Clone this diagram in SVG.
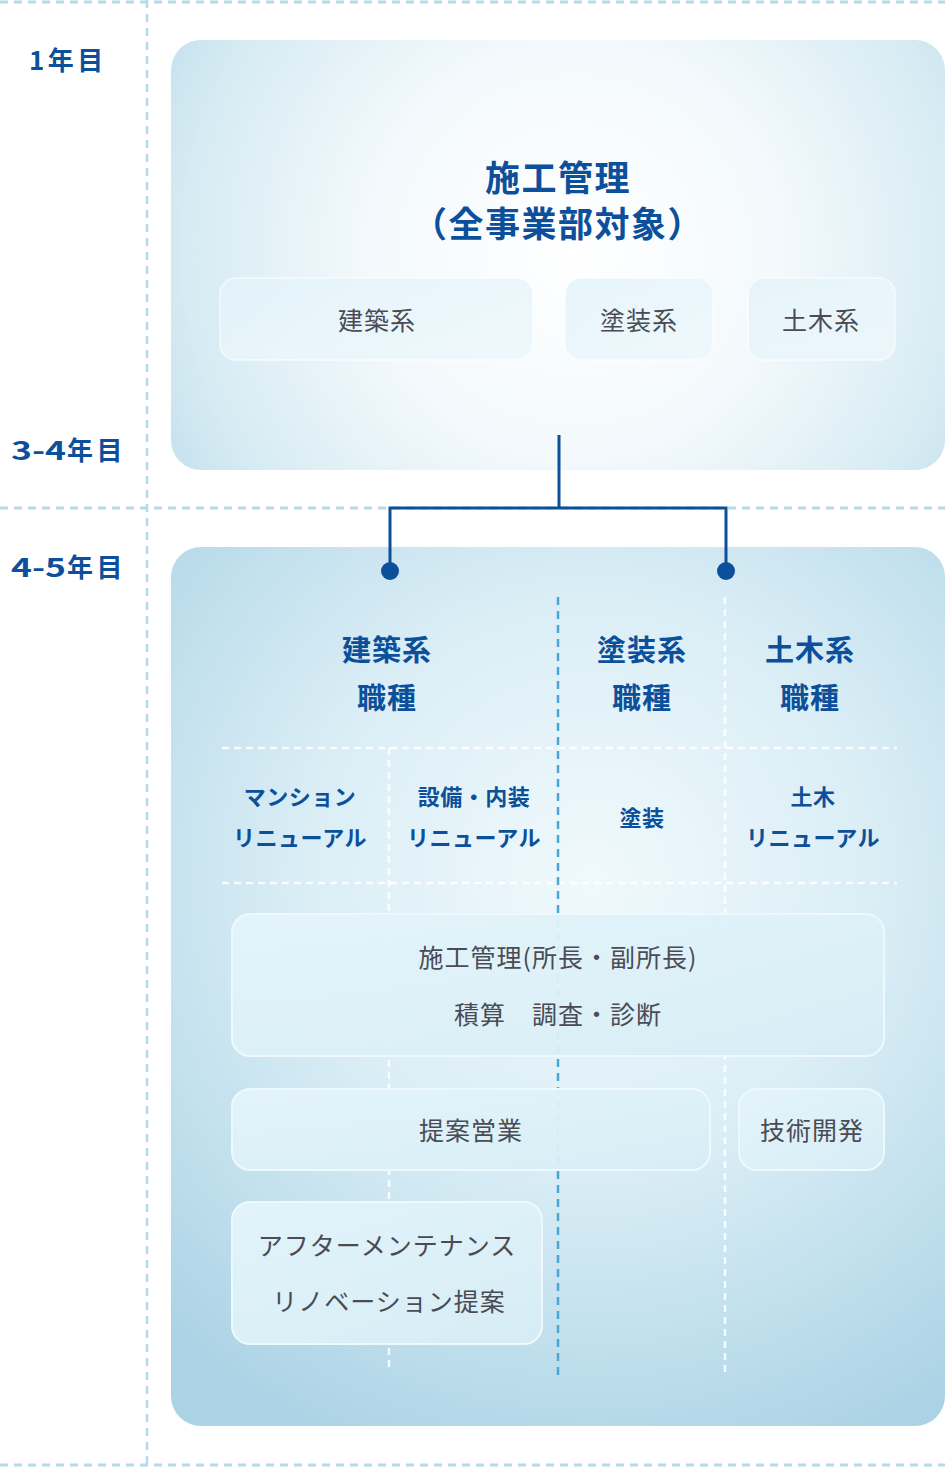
<svg xmlns="http://www.w3.org/2000/svg" width="945" height="1467" viewBox="0 0 945 1467">
<defs>
<radialGradient id="gTop" gradientUnits="userSpaceOnUse" cx="575" cy="250" r="520">
<stop offset="0" stop-color="#ffffff"/>
<stop offset="0.4" stop-color="#f3f9fc"/>
<stop offset="0.75" stop-color="#d6ebf3"/>
<stop offset="1" stop-color="#b6d9e8"/>
</radialGradient>
<radialGradient id="gBot" gradientUnits="userSpaceOnUse" cx="590" cy="880" r="620">
<stop offset="0" stop-color="#f0f9fc"/>
<stop offset="0.45" stop-color="#dbeef6"/>
<stop offset="1" stop-color="#abd3e5"/>
</radialGradient>
<linearGradient id="gBox" x1="0" y1="0" x2="1" y2="1">
<stop offset="0" stop-color="#e4f5fb"/>
<stop offset="1" stop-color="#d7edf5"/>
</linearGradient>
<linearGradient id="gSub" x1="0" y1="0" x2="1" y2="1">
<stop offset="0" stop-color="#e3f3fa"/>
<stop offset="1" stop-color="#eef8fc"/>
</linearGradient>
<style>
.yr{font-family:"Noto Sans CJK JP","Noto Sans",sans-serif;font-weight:700;font-size:26px;fill:#0c4f9b;letter-spacing:3.5px}
.ttl{font-family:"Noto Sans CJK JP",sans-serif;font-weight:700;font-size:35px;fill:#0c4f9b;letter-spacing:1.5px;text-anchor:middle;dominant-baseline:central}
.hd{font-family:"Noto Sans CJK JP",sans-serif;font-weight:700;font-size:29px;fill:#0c4f9b;letter-spacing:1px;text-anchor:middle;dominant-baseline:central}
.sb{font-family:"Noto Sans CJK JP",sans-serif;font-weight:700;font-size:22px;fill:#0c4f9b;letter-spacing:0.5px;text-anchor:middle;dominant-baseline:central}
.tx{font-family:"Noto Sans CJK JP",sans-serif;font-weight:400;font-size:25px;fill:#4a4b55;letter-spacing:1px;text-anchor:middle;dominant-baseline:central}
.outer{stroke:#b5dbe9;stroke-width:3;stroke-dasharray:8 6;fill:none}
.inner{stroke:#ffffff;stroke-opacity:0.85;stroke-width:2.5;stroke-dasharray:7 5;fill:none}
.blue{stroke:#4aa6d6;stroke-width:2.5;stroke-dasharray:8 6;fill:none}
.sub{fill:url(#gSub);fill-opacity:0.85;stroke:#ffffff;stroke-opacity:0.5;stroke-width:2}
.box{fill:url(#gBox);fill-opacity:0.95;stroke:#eef9fd;stroke-width:2}
.con{stroke:#0c4f9b;stroke-width:3;fill:none}
</style>
</defs>
<rect width="945" height="1467" fill="#ffffff"/>
<g id="grid">
<line class="outer" x1="0" y1="2" x2="945" y2="2"/>
<line class="outer" x1="0" y1="508" x2="945" y2="508"/>
<line class="outer" x1="0" y1="1465" x2="945" y2="1465"/>
<line class="outer" x1="147" y1="0" x2="147" y2="1467" style="stroke-width:2.5"/>
</g>
<g id="years">
<text class="yr" x="29" y="70">1年目</text>
<text class="yr" x="11" y="460"><tspan textLength="55" lengthAdjust="spacingAndGlyphs" style="letter-spacing:0">3-4</tspan><tspan x="67">年目</tspan></text>
<text class="yr" x="11" y="577"><tspan textLength="55" lengthAdjust="spacingAndGlyphs" style="letter-spacing:0">4-5</tspan><tspan x="67">年目</tspan></text>
</g>
<g id="stage1">
<rect x="171" y="40" width="774" height="430" rx="30" fill="url(#gTop)"/>
<text class="ttl" x="558" y="175">施工管理</text>
<text class="ttl" x="558" y="221">（全事業部対象）</text>
<g id="s1-kenchiku"><rect class="sub" x="220" y="278" width="313" height="82" rx="16"/><text class="tx" x="377" y="319">建築系</text></g>
<g id="s1-tosou"><rect class="sub" x="565" y="278" width="148" height="82" rx="16"/><text class="tx" x="639" y="319">塗装系</text></g>
<g id="s1-doboku"><rect class="sub" x="748" y="278" width="147" height="82" rx="16"/><text class="tx" x="821" y="319">土木系</text></g>
</g>
<g id="stage2">
<rect x="171" y="547" width="774" height="879" rx="30" fill="url(#gBot)"/>
<g id="dividers">
<line class="inner" x1="222" y1="748" x2="897" y2="748"/>
<line class="inner" x1="222" y1="883" x2="897" y2="883"/>
<line class="inner" x1="389" y1="748" x2="389" y2="1370"/>
<line class="inner" x1="725" y1="597" x2="725" y2="1376"/>
<line class="blue" x1="558" y1="597" x2="558" y2="1376"/>
</g>
<g id="h-kenchiku"><text class="hd" x="387" y="648">建築系</text><text class="hd" x="387" y="696">職種</text></g>
<g id="h-tosou"><text class="hd" x="642" y="648">塗装系</text><text class="hd" x="642" y="696">職種</text></g>
<g id="h-doboku"><text class="hd" x="810" y="648">土木系</text><text class="hd" x="810" y="696">職種</text></g>
<g id="c-mansion"><text class="sb" x="300" y="795">マンション</text><text class="sb" x="300" y="836">リニューアル</text></g>
<g id="c-setsubi"><text class="sb" x="474" y="795">設備・内装</text><text class="sb" x="474" y="836">リニューアル</text></g>
<g id="c-tosou"><text class="sb" x="642" y="816">塗装</text></g>
<g id="c-doboku"><text class="sb" x="813" y="795">土木</text><text class="sb" x="813" y="836">リニューアル</text></g>
<g id="b-sekou"><rect class="box" x="232" y="914" width="652" height="142" rx="18"/><text class="tx" x="558" y="956">施工管理(所長・副所長)</text><text class="tx" x="558" y="1013">積算　調査・診断</text></g>
<g id="b-teian"><rect class="box" x="232" y="1089" width="478" height="81" rx="18"/><text class="tx" x="471" y="1129">提案営業</text></g>
<g id="b-gijutsu"><rect class="box" x="739" y="1089" width="145" height="81" rx="18"/><text class="tx" x="812" y="1129">技術開発</text></g>
<g id="b-after"><rect class="box" x="232" y="1202" width="310" height="142" rx="18"/><text class="tx" x="387" y="1244">アフターメンテナンス</text><text class="tx" x="389" y="1300">リノベーション提案</text></g>
</g>
<g id="connectors">
<path class="con" d="M559 435 V508 M390 571 V508 H726 V571"/>
<circle cx="390" cy="571" r="9" fill="#0c4f9b"/>
<circle cx="726" cy="571" r="9" fill="#0c4f9b"/>
</g>
</svg>
